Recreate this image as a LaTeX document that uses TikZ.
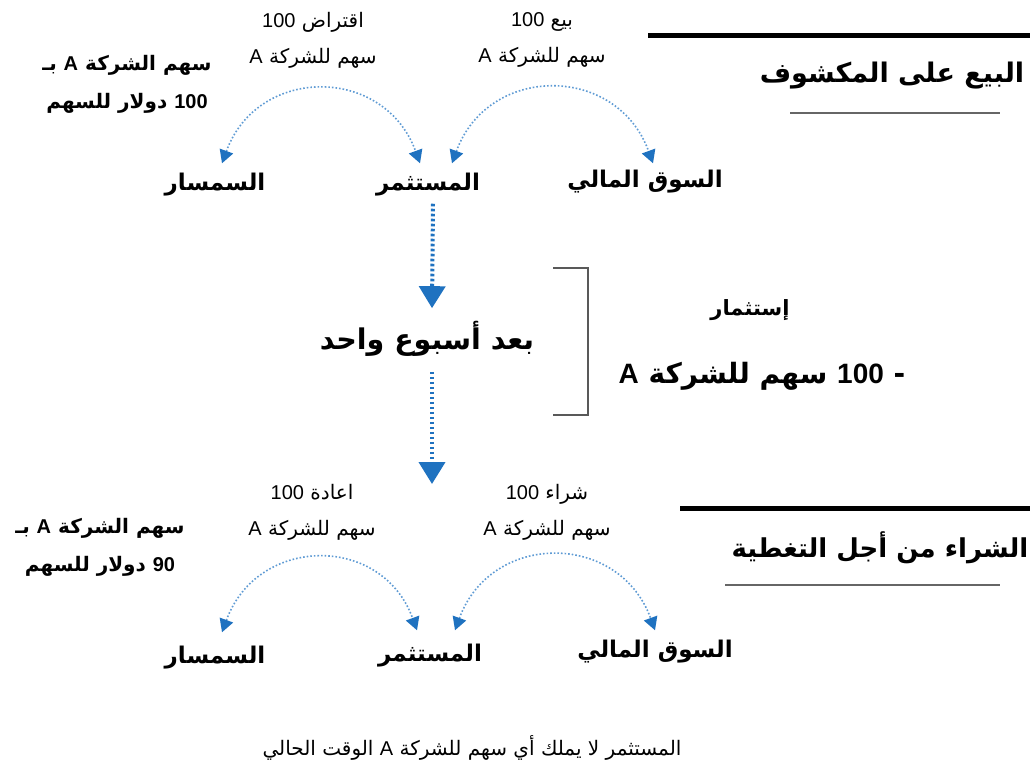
\documentclass[tikz,border=0pt]{standalone}
\usepackage{fontspec}
\setmainfont{Liberation Sans}
\newfontfamily\arabicfont[Script=Arabic]{DejaVu Sans}
\TeXXeTstate=1
\usetikzlibrary{arrows.meta}
\definecolor{tipblue}{RGB}{31,114,192}
\definecolor{dotblue}{RGB}{95,155,212}
\newcommand{\artext}[1]{{\arabicfont\beginR #1\endR}}
\newcommand{\ltr}[1]{\beginL{\rmfamily #1}\endL{}}
\tikzstyle{actor} = [font=\fontsize{23}{26}\selectfont\bfseries, inner sep=2pt]
\tikzstyle{note} = [font=\fontsize{20}{36}\selectfont, align=center, inner sep=0pt]
\tikzstyle{price} = [font=\fontsize{20}{38}\selectfont\bfseries, align=center, inner sep=0pt]
\tikzstyle{heading} = [font=\fontsize{26}{30}\selectfont\bfseries, inner sep=0pt]
\tikzstyle{swap} = [dash pattern=on 1.6pt off 2pt, line width=1.6pt, dotblue, {Triangle[width=14pt,length=13pt,color=tipblue]}-{Triangle[width=14pt,length=13pt,color=tipblue]}]
\tikzstyle{later} = [dash pattern=on 2.6pt off 2.4pt, line width=4pt, tipblue, -{Triangle[width=26pt,length=22pt]}]

\begin{document}
\begin{tikzpicture}[x=1pt, y=1pt]
	\useasboundingbox (0,0) rectangle (1034,-769);
	% short sale
	\draw[line width=5pt] (648,-35) -- (1030,-35);
	\draw[line width=2.8pt, black!60] (790,-113) -- (1000,-113);
	\node[heading, font=\fontsize{27}{30}\selectfont\bfseries] (short) at (892,-76) {\artext{البيع على المكشوف}};
	\node[note] (lend) at (313,-40) {\artext{اقتراض \ltr{100}}\\ \artext{سهم للشركة \ltr{A}}};
	\node[note] (sell) at (542,-40) {\artext{بيع \ltr{100}}\\ \artext{سهم للشركة \ltr{A}}};
	\node[price] (price) at (127,-84) {\artext{سهم الشركة \ltr{A} بـ}\\ \artext{\ltr{100} دولار للسهم}};
	\node[actor] (broker) at (215,-185) {\artext{السمسار}};
	\node[actor] (investor) at (428,-185) {\artext{المستثمر}};
	\node[actor] (market) at (645,-182) {\artext{السوق المالي}};
	\draw[swap] ([xshift=7pt,yshift=8pt]broker.north) to[out=70, in=110, looseness=1.35] ([xshift=-8pt,yshift=8pt]investor.north);
	\draw[swap] ([xshift=24pt,yshift=8pt]investor.north) to[out=70, in=110, looseness=1.35] ([xshift=8pt,yshift=5pt]market.north);
	% one week
	\node[actor, font=\fontsize{28.5}{32}\selectfont\bfseries] (week) at (427,-339) {\artext{بعد أسبوع واحد}};
	\draw[later] ([xshift=5pt,yshift=-5pt]investor.south) -- ([xshift=5pt,yshift=11pt]week.north);
	\coordinate (cover) at (432,-484);
	\draw[later] ([xshift=5pt,yshift=-13pt]week.south) -- (cover);
	\draw[line width=2pt, black!65] (553,-268) -- (588,-268) -- (588,-415) -- (553,-415);
	\node[actor, font=\fontsize{21}{24}\selectfont\bfseries] (hold) at (750,-310) {\artext{إستثمار}};
	\node[actor, font=\fontsize{28}{32}\selectfont\bfseries] (minus) at (762,-376) {\artext{- \ltr{100} سهم للشركة \ltr{A}}};
	% buy to cover
	\draw[line width=5pt] (680,-508) -- (1030,-508);
	\draw[line width=2.8pt, black!60] (725,-585) -- (1000,-585);
	\node[heading] (cover) at (880,-548) {\artext{الشراء من أجل التغطية}};
	\node[note] (back) at (312,-512) {\artext{اعادة \ltr{100}}\\ \artext{سهم للشركة \ltr{A}}};
	\node[note] (buy) at (547,-512) {\artext{شراء \ltr{100}}\\ \artext{سهم للشركة \ltr{A}}};
	\node[price] (price2) at (100,-547) {\artext{سهم الشركة \ltr{A} بـ}\\ \artext{\ltr{90} دولار للسهم}};
	\node[actor] (broker2) at (215,-658) {\artext{السمسار}};
	\node[actor] (investor2) at (430,-656) {\artext{المستثمر}};
	\node[actor] (market2) at (655,-652) {\artext{السوق المالي}};
	\draw[swap] ([xshift=7pt,yshift=12pt]broker2.north) to[out=70, in=110, looseness=1.35] ([xshift=-13pt,yshift=12pt]investor2.north);
	\draw[swap] ([xshift=25pt,yshift=12pt]investor2.north) to[out=70, in=110, looseness=1.35] ([xshift=0pt,yshift=8pt]market2.north);
	\node[note] (none) at (472,-748) {\artext{المستثمر لا يملك أي سهم للشركة \ltr{A} الوقت الحالي}};
\end{tikzpicture}
\end{document}
